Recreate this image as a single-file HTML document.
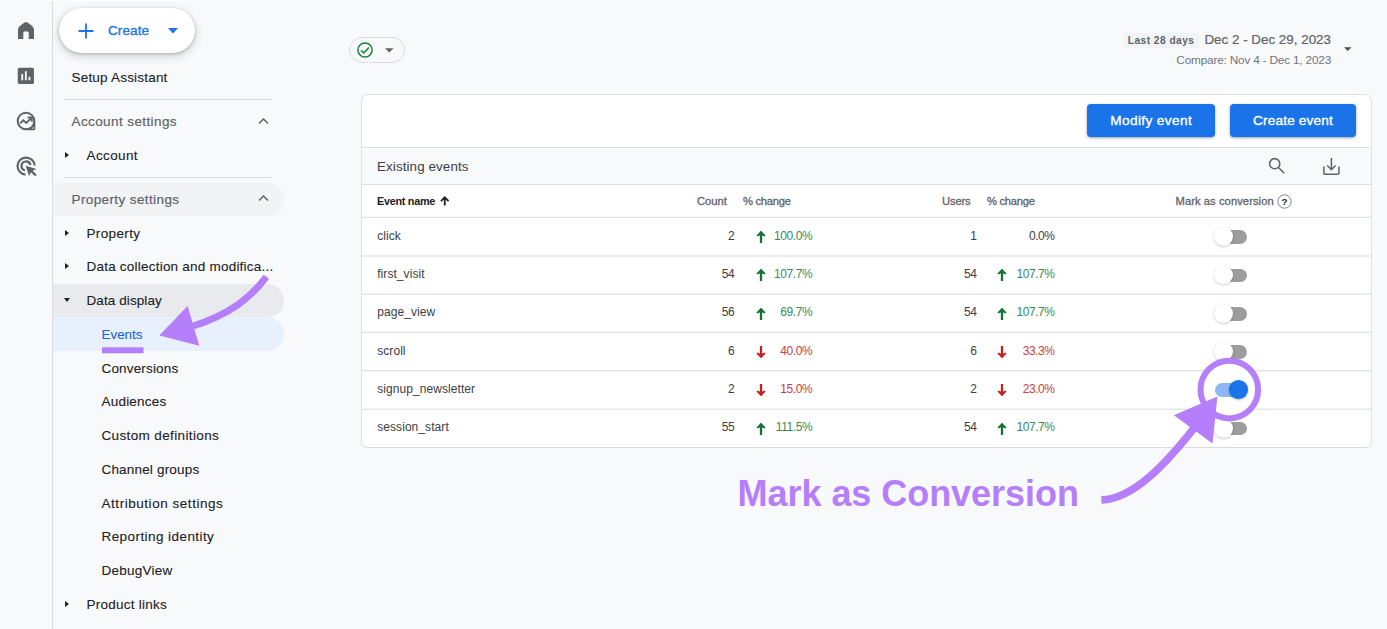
<!DOCTYPE html>
<html>
<head>
<meta charset="utf-8">
<style>
*{box-sizing:border-box;margin:0;padding:0}
html,body{width:1387px;height:629px;overflow:hidden}
body{background:#f8f9fa;font-family:"Liberation Sans",sans-serif;position:relative;color:#202124}
.abs{position:absolute}
.t{position:absolute;white-space:nowrap;line-height:1}
/* rail */
#rail{position:absolute;left:0;top:0;width:53px;height:629px;border-right:1px solid #dadce0;background:#f8f9fa}
/* nav */
.nav{font-size:13.5px;color:#202124;-webkit-text-stroke:.1px currentColor;transform:translateY(-50%);letter-spacing:.1px}
.nav.g{color:#5f6368;-webkit-text-stroke:.2px currentColor}
.hr{position:absolute;left:64px;width:207.5px;height:1px;background:#dadce0}
.tri{position:absolute;width:0;height:0;border-left:4px solid #202124;border-top:3.5px solid transparent;border-bottom:3.5px solid transparent}
/* table */
#card{position:absolute;left:361px;top:94px;width:1011px;height:354px;background:#fff;border:1px solid #dfe1e5;border-bottom-color:#d8dade;border-radius:7px;overflow:hidden}
.ln{position:absolute;left:362px;width:1009px;height:1.4px;background:#e9ebee}
.cell{font-size:12px;color:#3c4043;transform:translateY(-50%)}
.r{text-align:right}
.n{letter-spacing:-.42px}
.nm{letter-spacing:.07px}
.hd{font-size:11.2px;color:#5f6368;transform:translateY(-50%);-webkit-text-stroke:.3px currentColor}
.up{color:#3a8a55}
.dn{color:#c9403d}
.btn{position:absolute;top:103.5px;height:33.5px;background:#1a73e8;border-radius:4px;color:#fff;font-size:13.6px;-webkit-text-stroke:.35px #fff;text-align:center;line-height:34px;box-shadow:0 1px 2px rgba(60,64,67,.3),0 1px 3px 1px rgba(60,64,67,.15)}
.trk{position:absolute;left:1215px;width:31.6px;height:13.6px;border-radius:7px;background:#9d9d9d}
.thb{position:absolute;left:1214.3px;width:18.8px;height:18.8px;border-radius:50%;background:#fff;box-shadow:0 1px 3px rgba(0,0,0,.2),0 0 1px rgba(0,0,0,.04)}
</style>
</head>
<body>
<div id="rail"></div>
<div class="abs" style="left:0;top:0;width:1387px;height:1px;background:#fdfdfe"></div>

<!-- rail icons -->
<svg class="abs" style="left:18.2px;top:22px" width="16" height="17" viewBox="0 0 16 17"><path fill="#5f6368" d="M8 0C6.5 0 0 4.8 0 7.2V17h5.3v-6.2c0-.8.6-1.4 1.4-1.4h2.6c.800 0 1.4.6 1.4 1.4V17H16V7.2C16 4.8 9.5 0 8 0z"/></svg>
<svg class="abs" style="left:15.3px;top:64.6px" width="21.7" height="21.7" viewBox="0 0 24 24"><path fill="#5f6368" d="M19 3H5c-1.1 0-2 .9-2 2v14c0 1.1.9 2 2 2h14c1.1 0 2-.9 2-2V5c0-1.1-.9-2-2-2zM9 17H7v-7h2v7zm4 0h-2V7h2v10zm4 0h-2v-4h2v4z"/></svg>
<svg class="abs" style="left:16.2px;top:110.6px" width="20" height="20" viewBox="0 0 20 20"><path fill="#5f6368" fill-rule="evenodd" d="M10 .7a9.3 9.3 0 1 0 0 18.6h7.8q1.5 0 1.5-1.5V10A9.3 9.3 0 0 0 10 .7zM10 2.7a7.3 7.3 0 1 1 0 14.6a7.3 7.3 0 1 1 0-14.6z"/><path d="M4.2 12.3l3.1-3 3 2.7 4.7-4.6" stroke="#5f6368" stroke-width="1.9" fill="none"/><path d="M11.6 6.5h4.2v4.2" stroke="#5f6368" stroke-width="1.9" fill="none"/><circle cx="17.1" cy="17.1" r=".8" fill="#f8f9fa"/></svg>
<svg class="abs" style="left:16px;top:155.8px" width="22.2" height="22.2" viewBox="0 0 22 22" fill="none" stroke="#5f6368" stroke-width="2.2"><path d="M9.4 18.5A8.5 8.5 0 1 1 18.5 9.4"/><path d="M8.8 14.3A4.5 4.5 0 1 1 14.3 8.8"/><path fill="#5f6368" stroke="none" d="M9.6 9.6l3.4 10.4 1.9-3.8 4 4 1.6-1.6-4-4 3.7-1.8z"/></svg>

<!-- create button -->
<div class="abs" style="left:59px;top:8px;width:136px;height:45px;border-radius:23px;background:#fff;box-shadow:0 1px 3px rgba(60,64,67,.3),0 3px 7px 2px rgba(60,64,67,.15)"></div>
<svg class="abs" style="left:78px;top:23px" width="16" height="16" viewBox="0 0 16 16"><path d="M8 .5v15M.5 8h15" stroke="#1a73e8" stroke-width="1.8" fill="none"/></svg>
<div class="t" style="left:108px;top:31px;transform:translateY(-50%);font-size:13.6px;color:#1a73e8;-webkit-text-stroke:.35px #1a73e8;letter-spacing:.05px">Create</div>
<svg class="abs" style="left:168px;top:28px" width="10" height="6" viewBox="0 0 10 6"><path d="M0 0h10L5 5.5z" fill="#1a73e8"/></svg>

<!-- nav -->
<div class="t nav" style="left:71.5px;top:78px;letter-spacing:0.20px">Setup Assistant</div>
<div class="hr" style="top:99px"></div>
<div class="t nav g" style="left:71.5px;top:121.5px;letter-spacing:0.40px">Account settings</div>
<svg class="abs" style="left:258px;top:116.5px" width="11" height="8" viewBox="0 0 11 8"><path d="M1 6.5l4.5-4.5 4.5 4.5" stroke="#5f6368" stroke-width="1.5" fill="none"/></svg>
<div class="tri" style="left:64.7px;top:151.5px"></div>
<div class="t nav" style="left:86.5px;top:155.5px;letter-spacing:0.39px">Account</div>
<div class="hr" style="top:177px"></div>

<div class="abs" style="left:53px;top:182.5px;width:230.5px;height:33.5px;background:#f1f3f4;border-radius:0 17px 17px 0"></div>
<div class="t nav g" style="left:71.5px;top:199.5px;letter-spacing:0.39px">Property settings</div>
<svg class="abs" style="left:258px;top:194.4px" width="11" height="8" viewBox="0 0 11 8"><path d="M1 6.5l4.5-4.5 4.5 4.5" stroke="#5f6368" stroke-width="1.5" fill="none"/></svg>

<div class="tri" style="left:64.7px;top:229.5px"></div>
<div class="t nav" style="left:86.5px;top:233.5px;letter-spacing:0.37px">Property</div>
<div class="tri" style="left:64.7px;top:262.7px"></div>
<div class="t nav" style="left:86.5px;top:267.2px;letter-spacing:0.22px">Data collection and modifica...</div>

<div class="abs" style="left:53px;top:283.7px;width:230.5px;height:33.4px;background:#e8eaed;border-radius:0 17px 17px 0"></div>
<div class="abs" style="left:53px;top:317.1px;width:230.5px;height:33.6px;background:#e8f0fe;border-radius:0 17px 17px 0"></div>
<div class="abs" style="left:63.6px;top:298.2px;width:0;height:0;border-top:4px solid #202124;border-left:3.5px solid transparent;border-right:3.5px solid transparent"></div>
<div class="t nav" style="left:86.5px;top:301px;letter-spacing:0.09px">Data display</div>
<div class="t nav" style="left:101.5px;top:334.6px;color:#1967d2;letter-spacing:-0.05px">Events</div>
<div class="t nav" style="left:101.5px;top:368.9px;letter-spacing:0.16px">Conversions</div>
<div class="t nav" style="left:101.5px;top:402.4px;letter-spacing:0.21px">Audiences</div>
<div class="t nav" style="left:101.5px;top:436.1px;letter-spacing:0.37px">Custom definitions</div>
<div class="t nav" style="left:101.5px;top:469.5px;letter-spacing:0.18px">Channel groups</div>
<div class="t nav" style="left:101.5px;top:503.6px;letter-spacing:0.54px">Attribution settings</div>
<div class="t nav" style="left:101.5px;top:537.4px;letter-spacing:0.43px">Reporting identity</div>
<div class="t nav" style="left:101.5px;top:570.7px;letter-spacing:0.23px">DebugView</div>
<div class="tri" style="left:64.7px;top:600.5px"></div>
<div class="t nav" style="left:86.5px;top:604.5px;letter-spacing:0.24px">Product links</div>

<!-- chip -->
<div class="abs" style="left:348.5px;top:37px;width:56.5px;height:25.5px;border:1px solid #dadce0;border-radius:13px"></div>
<svg class="abs" style="left:357px;top:41.8px" width="16" height="16" viewBox="0 0 16 16" fill="none" stroke="#188038" stroke-width="1.5"><circle cx="8" cy="8" r="7.1"/><path d="M4 8.3l2.7 2.7 5.2-5.5"/></svg>
<svg class="abs" style="left:385px;top:48px" width="8.5" height="4.5" viewBox="0 0 10 5"><path d="M0 0h10L5 5z" fill="#5f6368"/></svg>

<!-- date range -->
<div class="abs" style="left:1123.5px;top:33px;width:75px;height:14.7px;background:#f1f3f4;border-radius:2px"></div>
<div class="t" style="left:1127.7px;top:40.8px;transform:translateY(-50%);font-size:10.2px;font-weight:bold;color:#5f6368;letter-spacing:.47px">Last 28 days</div>
<div class="t" style="right:56px;top:40px;transform:translateY(-50%);font-size:13.4px;color:#5f6368;-webkit-text-stroke:.2px #5f6368">Dec 2 - Dec 29, 2023</div>
<div class="t" style="right:56px;top:60.9px;transform:translateY(-50%);font-size:11.8px;letter-spacing:-.19px;color:#70757a">Compare: Nov 4 - Dec 1, 2023</div>
<svg class="abs" style="left:1343.5px;top:47.3px" width="7.5" height="4" viewBox="0 0 10 5"><path d="M0 0h10L5 5z" fill="#4a4e52"/></svg>

<!-- card -->
<div id="card">
  <div class="abs" style="left:0;top:53.5px;width:1011px;height:36.7px;background:#f8f9fa"></div>
</div>
<div class="ln" style="top:147.1px;height:1px;background:#dddfe2"></div>
<div class="ln" style="top:184px;height:1px;background:#dddfe2"></div>

<svg class="abs" style="left:362px;top:0" width="1009" height="460" viewBox="0 0 1009 460"><rect x="0" y="216.7" width="1009" height="1.4" fill="#e2e4e7"/><rect x="0" y="255.3" width="1009" height="1.4" fill="#e2e4e7"/><rect x="0" y="293.5" width="1009" height="1.4" fill="#e2e4e7"/><rect x="0" y="331.7" width="1009" height="1.4" fill="#e2e4e7"/><rect x="0" y="370.0" width="1009" height="1.4" fill="#e2e4e7"/><rect x="0" y="408.6" width="1009" height="1.4" fill="#e2e4e7"/></svg>
<div class="btn" style="left:1087px;width:128px;letter-spacing:.39px;padding-left:.4px">Modify event</div>
<div class="btn" style="left:1230px;width:126px;letter-spacing:.18px">Create event</div>

<div class="t" style="left:377px;top:166.8px;transform:translateY(-50%);font-size:13.4px;letter-spacing:.1px;color:#3c4043">Existing events</div>
<svg class="abs" style="left:1268.2px;top:157.3px" width="17" height="17" viewBox="0 0 17 17" fill="none" stroke="#5f6368" stroke-width="1.55"><circle cx="6.7" cy="6.7" r="5.1"/><path d="M10.5 10.5l5.7 5.7"/></svg>
<svg class="abs" style="left:1322px;top:157px" width="19" height="19" viewBox="0 0 19 19" fill="none" stroke="#5f6368" stroke-width="1.5"><path d="M1.85 9.6V16q0 1.15 1.15 1.15H15.8q1.15 0 1.15-1.15V9.6"/><path d="M9.4 .9V12.3M5.2 8.5l4.2 4.2 4.2-4.2"/></svg>

<!-- header -->
<div class="t hd" style="left:377px;top:200.9px;font-size:10.8px;font-weight:bold;letter-spacing:-.26px;-webkit-text-stroke:0;color:#202124">Event name</div>
<svg class="abs" style="left:439.7px;top:196px" width="9.5" height="10" viewBox="0 0 10 10" fill="none" stroke="#202124" stroke-width="1.9"><path d="M5 9.8V1.4M1 5.2l4-4 4 4"/></svg>
<div class="t hd" style="left:697px;top:201.8px">Count</div>
<div class="t hd" style="left:743px;top:201.8px;letter-spacing:-.26px">% change</div>
<div class="t hd" style="left:942px;top:201.8px;letter-spacing:-.14px">Users</div>
<div class="t hd" style="left:987px;top:201.8px;letter-spacing:-.26px">% change</div>
<div class="t hd" style="left:1175.5px;top:201.8px;letter-spacing:.07px">Mark as conversion</div>
<svg class="abs" style="left:1277px;top:194.3px" width="15" height="15" viewBox="0 0 15 15"><circle cx="7.5" cy="7.5" r="6.7" fill="none" stroke="#80868b" stroke-width="1"/><text x="7.5" y="11" text-anchor="middle" font-family="Liberation Sans" font-weight="bold" font-size="9.8" fill="#202124">?</text></svg>

<!--ROWS-->
<div class="t cell nm" style="left:377.2px;top:235.8px">click</div>
<div class="t cell r n" style="right:652.8px;top:235.8px">2</div>
<svg class="abs" style="left:755.6px;top:231.0px" width="10" height="12" viewBox="0 0 10 12"><path d="M5 12V3" stroke="#137333" stroke-width="2.3" fill="none"/><path d="M5 0L9.3 5.2 5 4.2 0.7 5.2z" fill="#137333"/><path d="M1 5L5 1 9 5" stroke="#137333" stroke-width="1.6" fill="none"/></svg>
<div class="t cell r n up" style="right:574.8px;top:235.8px">100.0%</div>
<div class="t cell r n" style="right:410.4px;top:235.8px">1</div>

<div class="t cell r n" style="right:332.4px;top:235.8px">0.0%</div>
<div class="trk" style="top:230.4px"></div><div class="thb" style="top:227.4px"></div>
<div class="t cell nm" style="left:377.2px;top:274.1px">first_visit</div>
<div class="t cell r n" style="right:652.8px;top:274.1px">54</div>
<svg class="abs" style="left:755.6px;top:269.3px" width="10" height="12" viewBox="0 0 10 12"><path d="M5 12V3" stroke="#137333" stroke-width="2.3" fill="none"/><path d="M5 0L9.3 5.2 5 4.2 0.7 5.2z" fill="#137333"/><path d="M1 5L5 1 9 5" stroke="#137333" stroke-width="1.6" fill="none"/></svg>
<div class="t cell r n up" style="right:574.8px;top:274.1px">107.7%</div>
<div class="t cell r n" style="right:410.4px;top:274.1px">54</div>
<svg class="abs" style="left:997.3px;top:269.3px" width="10" height="12" viewBox="0 0 10 12"><path d="M5 12V3" stroke="#137333" stroke-width="2.3" fill="none"/><path d="M5 0L9.3 5.2 5 4.2 0.7 5.2z" fill="#137333"/><path d="M1 5L5 1 9 5" stroke="#137333" stroke-width="1.6" fill="none"/></svg>
<div class="t cell r n up" style="right:332.4px;top:274.1px">107.7%</div>
<div class="trk" style="top:268.7px"></div><div class="thb" style="top:265.7px"></div>
<div class="t cell nm" style="left:377.2px;top:312.4px">page_view</div>
<div class="t cell r n" style="right:652.8px;top:312.4px">56</div>
<svg class="abs" style="left:755.6px;top:307.6px" width="10" height="12" viewBox="0 0 10 12"><path d="M5 12V3" stroke="#137333" stroke-width="2.3" fill="none"/><path d="M5 0L9.3 5.2 5 4.2 0.7 5.2z" fill="#137333"/><path d="M1 5L5 1 9 5" stroke="#137333" stroke-width="1.6" fill="none"/></svg>
<div class="t cell r n up" style="right:574.8px;top:312.4px">69.7%</div>
<div class="t cell r n" style="right:410.4px;top:312.4px">54</div>
<svg class="abs" style="left:997.3px;top:307.6px" width="10" height="12" viewBox="0 0 10 12"><path d="M5 12V3" stroke="#137333" stroke-width="2.3" fill="none"/><path d="M5 0L9.3 5.2 5 4.2 0.7 5.2z" fill="#137333"/><path d="M1 5L5 1 9 5" stroke="#137333" stroke-width="1.6" fill="none"/></svg>
<div class="t cell r n up" style="right:332.4px;top:312.4px">107.7%</div>
<div class="trk" style="top:307.0px"></div><div class="thb" style="top:304.0px"></div>
<div class="t cell nm" style="left:377.2px;top:350.7px">scroll</div>
<div class="t cell r n" style="right:652.8px;top:350.7px">6</div>
<svg class="abs" style="left:755.6px;top:345.9px" width="10" height="12" viewBox="0 0 10 12"><path d="M5 0v9" stroke="#c5221f" stroke-width="2.3" fill="none"/><path d="M5 12L9.3 6.8 5 7.8 0.7 6.8z" fill="#c5221f"/><path d="M1 7l4 4 4-4" stroke="#c5221f" stroke-width="1.6" fill="none"/></svg>
<div class="t cell r n dn" style="right:574.8px;top:350.7px">40.0%</div>
<div class="t cell r n" style="right:410.4px;top:350.7px">6</div>
<svg class="abs" style="left:997.3px;top:345.9px" width="10" height="12" viewBox="0 0 10 12"><path d="M5 0v9" stroke="#c5221f" stroke-width="2.3" fill="none"/><path d="M5 12L9.3 6.8 5 7.8 0.7 6.8z" fill="#c5221f"/><path d="M1 7l4 4 4-4" stroke="#c5221f" stroke-width="1.6" fill="none"/></svg>
<div class="t cell r n dn" style="right:332.4px;top:350.7px">33.3%</div>
<div class="trk" style="top:345.3px"></div><div class="thb" style="top:342.3px"></div>
<div class="t cell nm" style="left:377.2px;top:389.0px">signup_newsletter</div>
<div class="t cell r n" style="right:652.8px;top:389.0px">2</div>
<svg class="abs" style="left:755.6px;top:384.2px" width="10" height="12" viewBox="0 0 10 12"><path d="M5 0v9" stroke="#c5221f" stroke-width="2.3" fill="none"/><path d="M5 12L9.3 6.8 5 7.8 0.7 6.8z" fill="#c5221f"/><path d="M1 7l4 4 4-4" stroke="#c5221f" stroke-width="1.6" fill="none"/></svg>
<div class="t cell r n dn" style="right:574.8px;top:389.0px">15.0%</div>
<div class="t cell r n" style="right:410.4px;top:389.0px">2</div>
<svg class="abs" style="left:997.3px;top:384.2px" width="10" height="12" viewBox="0 0 10 12"><path d="M5 0v9" stroke="#c5221f" stroke-width="2.3" fill="none"/><path d="M5 12L9.3 6.8 5 7.8 0.7 6.8z" fill="#c5221f"/><path d="M1 7l4 4 4-4" stroke="#c5221f" stroke-width="1.6" fill="none"/></svg>
<div class="t cell r n dn" style="right:332.4px;top:389.0px">23.0%</div>
<div class="t cell nm" style="left:377.2px;top:427.3px">session_start</div>
<div class="t cell r n" style="right:652.8px;top:427.3px">55</div>
<svg class="abs" style="left:755.6px;top:422.5px" width="10" height="12" viewBox="0 0 10 12"><path d="M5 12V3" stroke="#137333" stroke-width="2.3" fill="none"/><path d="M5 0L9.3 5.2 5 4.2 0.7 5.2z" fill="#137333"/><path d="M1 5L5 1 9 5" stroke="#137333" stroke-width="1.6" fill="none"/></svg>
<div class="t cell r n up" style="right:574.8px;top:427.3px">111.5%</div>
<div class="t cell r n" style="right:410.4px;top:427.3px">54</div>
<svg class="abs" style="left:997.3px;top:422.5px" width="10" height="12" viewBox="0 0 10 12"><path d="M5 12V3" stroke="#137333" stroke-width="2.3" fill="none"/><path d="M5 0L9.3 5.2 5 4.2 0.7 5.2z" fill="#137333"/><path d="M1 5L5 1 9 5" stroke="#137333" stroke-width="1.6" fill="none"/></svg>
<div class="t cell r n up" style="right:332.4px;top:427.3px">107.7%</div>
<div class="trk" style="top:421.9px"></div><div class="thb" style="top:418.9px"></div>
<!--/ROWS-->

<!-- annotations -->
<svg class="abs" style="left:0;top:0" width="1387" height="629" viewBox="0 0 1387 629">
  <g fill="none" stroke="#b57efb" stroke-linecap="butt">
    <path d="M266.3 276.7C252 296.4 230.7 314.5 190 327" stroke-width="7"/>
    <path d="M1101.4 499.9C1134.5 498.8 1167.5 462 1197 424.3" stroke-width="7.6"/>
    <circle cx="1229.3" cy="389.6" r="28.8" stroke-width="6" fill="#fff"/>
  </g>
  <path d="M159.3 335.5L187.6 306 199.3 345.8z" fill="#b57efb"/>
  <rect x="102" y="347.3" width="41.5" height="6" fill="#b57efb"/>
  <path d="M1217.4 396.6L1173.9 415.3 1212.5 443.6z" fill="#b57efb"/>
</svg>
<div class="t" style="left:737.6px;top:472.5px;font-size:36px;letter-spacing:-.05px;font-weight:bold;color:#b57efb;line-height:41px">Mark as Conversion</div>

<!-- on toggle (drawn over circle) -->
<div class="abs" style="left:1215px;top:383.4px;width:32px;height:13.6px;border-radius:7px;background:#8cb8f3"></div>
<div class="abs" style="left:1229.3px;top:380.2px;width:18.8px;height:18.8px;border-radius:50%;background:#1a73e8;box-shadow:0 1px 2px rgba(0,0,0,.3)"></div>

</body>
</html>
